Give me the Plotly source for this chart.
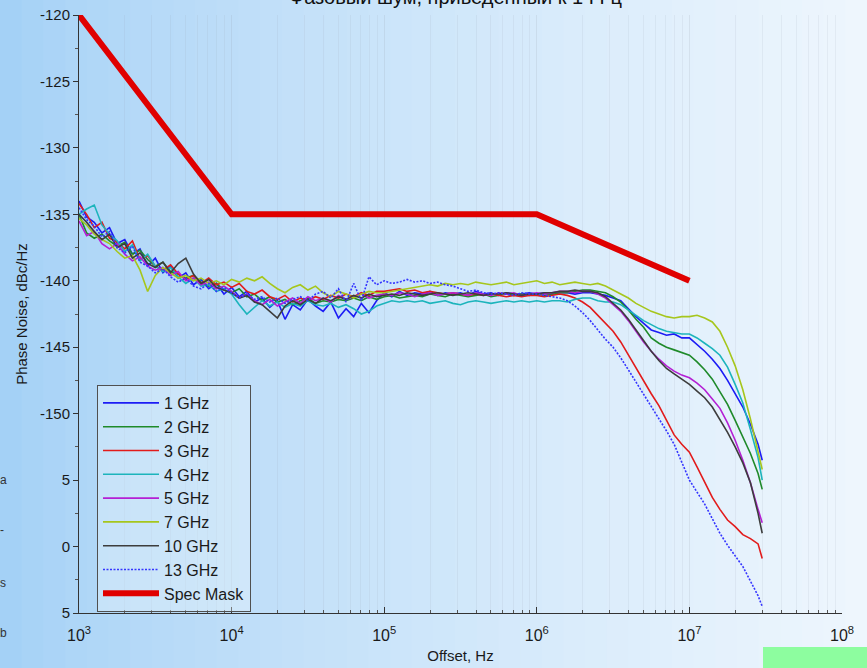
import plotly.graph_objects as go

# ---------------- data ----------------
offset_hz = [
    1.000e3, 1.122e3, 1.259e3, 1.413e3, 1.585e3, 1.778e3, 1.995e3, 2.239e3, 2.512e3, 2.818e3,
    3.162e3, 3.548e3, 3.981e3, 4.467e3, 5.012e3, 5.623e3, 6.310e3, 7.079e3, 7.943e3, 8.913e3,
    1.000e4, 1.122e4, 1.259e4, 1.413e4, 1.585e4, 1.778e4, 1.995e4, 2.239e4, 2.512e4, 2.818e4,
    3.162e4, 3.548e4, 3.981e4, 4.467e4, 5.012e4, 5.623e4, 6.310e4, 7.079e4, 7.943e4, 8.913e4,
    1.000e5, 1.122e5, 1.259e5, 1.413e5, 1.585e5, 1.778e5, 1.995e5, 2.239e5, 2.512e5, 2.818e5,
    3.162e5, 3.548e5, 3.981e5, 4.467e5, 5.012e5, 5.623e5, 6.310e5, 7.079e5, 7.943e5, 8.913e5,
    1.000e6, 1.122e6, 1.259e6, 1.413e6, 1.585e6, 1.778e6, 1.995e6, 2.239e6, 2.512e6, 2.818e6,
    3.162e6, 3.548e6, 3.981e6, 4.467e6, 5.012e6, 5.623e6, 6.310e6, 7.079e6, 7.943e6, 8.913e6,
    1.000e7, 1.122e7, 1.259e7, 1.413e7, 1.585e7, 1.778e7, 1.995e7, 2.239e7, 2.512e7, 2.818e7,
    3.000e7,
]

pn_1ghz = [
    -134.0, -135.2, -135.6, -136.4, -136.0, -137.2, -136.9, -138.0, -137.6, -138.9,
    -138.3, -139.4, -138.9, -139.8, -139.4, -140.3, -139.9, -140.6, -140.2, -141.0,
    -140.5, -141.2, -140.8, -141.6, -141.3, -142.0, -141.5, -142.9, -141.8, -142.2,
    -141.4, -141.9, -142.3, -141.6, -142.8, -142.1, -142.7, -141.7, -142.4, -141.5,
    -140.9, -141.2, -140.8, -141.1, -140.9, -141.0, -140.8, -141.1, -140.9, -141.0,
    -140.9, -141.1, -140.8, -141.0, -140.9, -141.1, -140.9, -141.0, -141.0, -140.9,
    -141.0, -140.9, -141.0, -140.9, -140.9, -141.0, -140.9, -140.9, -141.0, -141.1,
    -141.3, -141.5, -142.1, -142.7, -143.2, -143.7, -143.9, -144.1, -144.0, -144.3,
    -144.3, -144.8, -145.3, -145.9, -146.6, -147.5, -148.5, -149.5, -150.8, -152.3,
    -153.5,
]
pn_2ghz = [
    -135.0, -136.4, -136.8, -136.5, -137.0, -137.4, -137.1, -138.0, -137.7, -138.4,
    -138.9, -138.6, -139.3, -139.5, -139.8, -139.6, -140.1, -140.4, -140.2, -140.7,
    -140.9, -140.6, -141.2, -141.0, -141.5, -141.2, -141.6, -141.4, -141.8, -141.5,
    -141.3, -141.7, -141.5, -141.6, -141.4, -141.5, -141.3, -141.5, -141.2, -141.4,
    -141.2, -141.1, -141.3, -141.2, -141.1, -141.2, -141.0, -141.1, -141.2, -141.0,
    -141.1, -141.2, -141.1, -141.0, -141.2, -141.1, -141.0, -141.1, -141.0, -141.1,
    -141.0, -141.1, -141.0, -140.9, -140.9, -140.8, -140.7, -140.7, -140.8, -140.9,
    -141.2, -141.6, -142.2, -142.9, -143.5, -144.3, -144.7, -145.0, -145.2, -145.4,
    -145.6, -146.1, -146.7, -147.4, -148.3, -149.3, -150.5, -151.7, -153.0, -154.5,
    -155.7,
]
pn_3ghz = [
    -134.2, -135.0, -136.0, -135.6, -136.8, -137.1, -137.6, -137.0, -138.4, -138.1,
    -138.9, -139.2, -138.8, -139.5, -139.9, -139.6, -140.2, -139.8, -140.3, -140.1,
    -140.5, -140.2, -140.8, -141.0, -140.7, -141.2, -141.4, -141.1, -141.6, -141.3,
    -141.5, -141.2, -141.4, -141.1, -141.3, -141.0, -141.2, -140.9, -141.1, -140.8,
    -140.8, -140.7, -140.6, -140.8, -140.7, -140.9, -140.8, -140.9, -141.0, -140.9,
    -141.0, -141.1, -141.0, -141.1, -141.0, -141.1, -141.2, -141.1, -141.2, -141.1,
    -141.1, -141.2, -141.1, -141.0, -141.1, -141.3, -141.6, -142.0, -142.6, -143.2,
    -143.8, -144.6, -145.6, -146.6, -147.5, -148.5, -149.4, -150.5, -151.6, -152.3,
    -152.9, -154.0, -155.2, -156.3, -157.2, -158.0, -158.5, -159.1, -159.4, -159.8,
    -160.9,
]
pn_4ghz = [
    -135.0, -134.6, -134.3, -135.8, -136.5, -137.0, -137.8, -137.3, -138.5, -138.0,
    -138.9, -139.3, -139.0, -139.7, -140.2, -139.8, -140.4, -140.3, -140.8, -140.6,
    -141.0, -141.8, -142.5, -142.0, -141.5, -141.9, -141.6, -142.0, -141.7, -141.9,
    -141.5, -141.8, -141.9, -141.7, -142.0, -141.8, -142.1, -142.5, -142.3, -141.9,
    -141.7, -141.5, -141.6, -141.5, -141.6, -141.5, -141.7, -141.6, -141.5, -141.7,
    -141.8, -141.6, -141.5, -141.6, -141.7, -141.6, -141.5, -141.6, -141.5, -141.6,
    -141.5, -141.6, -141.5, -141.5, -141.6, -141.4, -141.3, -141.3, -141.5, -141.6,
    -141.6, -141.8, -142.2, -142.6, -143.0, -143.3, -143.6, -143.8, -143.9, -144.0,
    -144.0, -144.3, -144.7, -145.1, -145.6, -146.5, -147.8, -149.2, -151.2, -153.3,
    -155.0,
]
pn_5ghz = [
    -135.5, -136.6, -136.3, -137.2, -137.6, -137.2, -138.0, -138.5, -138.2, -138.9,
    -139.2, -139.0, -139.6, -139.3, -140.0, -139.8, -140.3, -140.1, -140.6, -140.4,
    -140.8, -141.3, -141.0, -141.5, -141.8, -141.4, -141.9, -141.6, -141.3, -141.7,
    -141.2, -141.5, -141.3, -141.6, -141.1, -141.4, -141.2, -141.0, -141.3, -141.1,
    -141.0, -141.1, -140.9, -141.0, -141.2, -141.0, -140.9, -141.1, -141.0, -140.9,
    -141.0, -141.1, -140.9, -141.0, -141.1, -140.9, -141.0, -140.9, -141.1, -141.0,
    -140.9, -141.0, -140.9, -140.8, -140.8, -140.9, -140.8, -140.8, -141.0, -141.3,
    -141.8, -142.3, -143.0, -143.8, -144.6, -145.3, -145.9, -146.4, -146.8, -147.1,
    -147.3, -147.7, -148.2, -148.9, -149.6, -150.7, -152.0, -153.5, -155.2, -157.2,
    -158.2,
]
pn_7ghz = [
    -135.3, -135.8, -136.5, -136.9, -137.2, -137.8, -138.3, -138.1, -139.2, -140.8,
    -139.6, -139.0, -139.4, -139.8, -139.6, -140.0, -139.8, -140.2, -140.0, -140.3,
    -139.9, -140.1, -139.8, -140.0, -139.7, -140.2, -140.6, -140.9, -140.5, -140.3,
    -140.7, -140.4, -140.9, -141.2, -140.8, -141.0, -141.3, -141.0, -140.8, -140.9,
    -140.9, -140.8, -140.7, -140.6, -140.5, -140.4, -140.3, -140.4, -140.2, -140.3,
    -140.2, -140.3, -140.1, -140.2, -140.3, -140.2, -140.1, -140.3, -140.2, -140.1,
    -140.0, -140.2, -140.1, -140.3, -140.2, -140.1, -140.2, -140.3, -140.2, -140.4,
    -140.7, -141.0, -141.3, -141.7, -142.0, -142.3, -142.5, -142.7, -142.8, -142.7,
    -142.7, -142.6, -142.8, -143.1, -143.8, -145.0, -146.4, -148.2, -150.4, -152.8,
    -154.2,
]
pn_10ghz = [
    -135.0, -135.6, -136.3, -136.9, -136.5, -137.5, -137.2, -138.3, -137.9, -138.7,
    -139.0, -138.6, -139.4, -138.7, -138.3, -139.5, -140.2, -139.9, -140.5, -140.7,
    -140.9, -141.3, -141.1, -141.6, -141.8, -142.3, -142.8, -141.9, -141.5, -141.8,
    -141.4, -141.7, -141.3, -141.5, -141.2, -141.4, -141.1, -141.3, -141.0, -141.2,
    -141.1, -141.0, -141.1, -140.9, -141.0, -141.1, -141.0, -140.9, -141.0, -141.1,
    -141.0, -140.9, -141.0, -141.1, -141.0, -141.0, -140.9, -141.0, -141.1, -141.0,
    -141.0, -140.9, -140.9, -140.8, -140.8, -140.7, -140.8, -140.8, -140.9, -141.2,
    -141.7, -142.2, -142.9, -143.7, -144.5, -145.3, -146.0, -146.6, -147.0, -147.4,
    -147.8, -148.3, -148.8, -149.5, -150.4, -151.4, -152.5, -153.7, -155.2, -157.5,
    -159.0,
]
pn_13ghz = [
    -134.5, -135.4, -135.9, -136.7, -136.3, -137.5, -137.9, -137.4, -138.6, -138.9,
    -139.4, -139.1, -139.7, -140.1, -139.8, -140.4, -140.6, -140.2, -140.8, -140.5,
    -140.9, -141.3, -141.0, -141.4, -141.2, -141.6, -141.3, -141.7, -141.4, -141.2,
    -141.5, -141.0, -140.8, -141.3, -140.6, -141.6, -140.2, -141.5, -139.7, -140.3,
    -140.0, -140.2, -140.1, -139.9, -140.1, -140.0, -140.2, -140.1, -140.3, -140.4,
    -140.6, -140.8, -140.7, -140.9, -141.0, -140.9, -141.0, -141.1, -140.9, -141.0,
    -141.0, -141.1, -141.2, -141.3, -141.5, -141.9, -142.4, -143.0, -143.7, -144.4,
    -145.0, -145.8, -146.7, -147.6, -148.5, -149.4, -150.3, -151.3, -152.3, -153.7,
    -155.0, -155.9, -156.8, -157.9, -159.0, -159.9, -160.7, -161.5, -162.6, -163.7,
    -164.5,
]

mask_offset_hz = [1e3, 1e4, 1e6, 1e7]
mask_pn = [-120, -135, -135, -140]

series_names = ["1 GHz", "2 GHz", "3 GHz", "4 GHz", "5 GHz", "7 GHz", "10 GHz", "13 GHz"]
series_values = [pn_1ghz, pn_2ghz, pn_3ghz, pn_4ghz, pn_5ghz, pn_7ghz, pn_10ghz, pn_13ghz]
series_colors = ["#1c1cf5", "#1f8a2a", "#e21b1b", "#1cb4bc", "#b41fd4", "#a6c61c", "#3d3d3d", "#3535ff"]
series_dash = ["solid"] * 7 + ["2px,1.5px"]

x_tickvals = [1e3, 1e4, 1e5, 1e6, 1e7, 1e8]
x_ticktext = ["10<sup>3</sup>", "10<sup>4</sup>", "10<sup>5</sup>", "10<sup>6</sup>",
              "10<sup>7</sup>", "10<sup>8</sup>"]
y_tickvals = [-120, -125, -130, -135, -140, -145, -150, -155, -160, -165]
y_ticktext = ["-120", "-125", "-130", "-135", "-140", "-145", "-150", "5", "0", "5"]

title_text = "Фазовый шум, приведенный к 1 ГГц"

# ---------------- figure ----------------
W, H = 867, 668
L, R, T, B = 79, 25, 15, 55
PW, PH = W - L - R, H - T - B

def px_x(p):
    return (p - L) / PW

def px_y(p):
    return (H - B - p) / PH

fig = go.Figure()

for name, vals, col, dash in zip(series_names, series_values, series_colors, series_dash):
    fig.add_trace(go.Scatter(
        x=offset_hz, y=vals, mode="lines", name=name,
        line=dict(color=col, width=1.6, dash=dash),
    ))

fig.add_trace(go.Scatter(
    x=mask_offset_hz, y=mask_pn, mode="lines", name="Spec Mask",
    line=dict(color="#e00000", width=6),
))

# background gradient (slide backdrop)
shapes = []
n = 40
c0 = (164, 209, 246)
c1 = (238, 246, 253)
for i in range(n):
    t = i / (n - 1)
    c = tuple(int(round(c0[k] + (c1[k] - c0[k]) * (t ** 0.8))) for k in range(3))
    shapes.append(dict(
        type="rect", xref="paper", yref="paper", layer="below",
        x0=px_x(W * i / n - (5 if i == 0 else 0)), x1=px_x(W * (i + 1) / n + 1),
        y0=px_y(H + 5), y1=px_y(-5),
        fillcolor="rgb(%d,%d,%d)" % c, line=dict(width=0),
    ))
# green block in the bottom right corner
shapes.append(dict(
    type="rect", xref="paper", yref="paper", layer="above",
    x0=px_x(763), x1=px_x(W + 2), y0=px_y(H + 2), y1=px_y(647),
    fillcolor="#8dfd9f", line=dict(width=0),
))

minor_x = [m * 10 ** e for e in range(3, 8) for m in range(2, 10)]

fig.update_layout(
    width=W, height=H,
    margin=dict(l=L, r=R, t=T, b=B, autoexpand=False),
    paper_bgcolor="#cfe6f9",
    plot_bgcolor="rgba(0,0,0,0)",
    font=dict(family="Liberation Sans, Arial, sans-serif", size=14, color="#1a1a1a"),
    shapes=shapes,
    showlegend=True,
    legend=dict(
        x=px_x(97), y=px_y(385), xanchor="left", yanchor="top",
        bgcolor="rgba(240,248,253,0.35)", bordercolor="#505050", borderwidth=1,
        font=dict(size=16, color="#1a1a1a"), itemwidth=56, tracegroupgap=0,
        traceorder="normal",
    ),
    xaxis=dict(
        type="log", range=[3, 8], automargin=False,
        tickvals=x_tickvals, ticktext=x_ticktext,
        ticks="inside", ticklen=6, tickcolor="#333",
        showline=True, linecolor="#333", linewidth=1, mirror=False,
        showgrid=True, gridcolor="rgba(140,150,160,0.16)", gridwidth=1,
        zeroline=False,
        tickfont=dict(size=16), ticklabelstandoff=8,
        minor=dict(tickvals=minor_x, ticks="inside", ticklen=3, tickcolor="#555",
                   showgrid=True, gridcolor="rgba(150,160,170,0.12)"),
        title=dict(text="Offset, Hz", font=dict(size=15), standoff=7),
    ),
    yaxis=dict(
        range=[-165, -120], automargin=False,
        tickvals=y_tickvals, ticktext=y_ticktext,
        ticks="outside", ticklen=5, tickcolor="#333",
        showline=True, linecolor="#333", linewidth=1, mirror=False,
        showgrid=False, zeroline=False,
        tickfont=dict(size=15),
        minor=dict(tickvals=[-122.5, -127.5, -132.5, -137.5, -142.5, -147.5, -152.5,
                             -157.5, -162.5],
                   ticks="outside", ticklen=3, tickcolor="#555"),
        title=dict(text="Phase Noise, dBc/Hz", font=dict(size=15), standoff=8),
    ),
)

fig.add_annotation(
    text=title_text, xref="paper", yref="paper",
    x=px_x(455), y=px_y(-3), xanchor="center", yanchor="middle",
    showarrow=False, font=dict(size=20, color="#111"),
)
for ch, yy in [("a", 480), ("-", 530), ("s", 583), ("b", 633)]:
    fig.add_annotation(
        text=ch, xref="paper", yref="paper", x=px_x(-2), y=px_y(yy),
        xanchor="left", yanchor="middle", showarrow=False,
        font=dict(size=12, color="#333"),
    )

fig.write_html("out.html")
